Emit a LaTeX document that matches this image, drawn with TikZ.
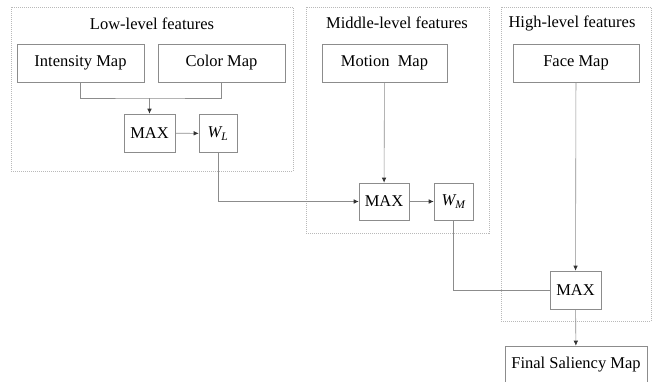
\documentclass[tikz,border=0pt]{standalone}
\usepackage{fontspec}
\setmainfont{Liberation Serif}
\usetikzlibrary{arrows.meta,positioning}
\tikzset{every picture/.style={font issue=\fontsize{16.5}{18}},
         font issue/.style={execute at begin picture={#1\selectfont}}
        }

\begin{document}
\begin{tikzpicture}[x=1pt, y=-1pt,
  group/.style={draw=gray!55, dash pattern=on 1pt off 1pt, line width=0.5pt},
  box/.style={draw=gray!90, line width=0.6pt, inner sep=0pt, minimum height=38pt},
  link/.style={draw=gray!90, line width=0.6pt},
  >={Latex[length=5pt,width=4.5pt,color=black!80]}]
\useasboundingbox (0,0) rectangle (655,381);
% groups of features
\draw[group] (11,7) rectangle (293,171);
\draw[group] (306,7) rectangle (489,233);
\draw[group] (501,7) rectangle (651,321);
\node (lowtitle) at (152,24) {Low-level features};
\node (midtitle) at (397,23) {Middle-level features};
\node (hightitle) at (572,23) {High-level features};
% maps
\node[box, minimum width=127pt] (intensity) at (80.5,63) {Intensity Map};
\node[box, minimum width=127pt] (color) at (221.5,63) {Color Map};
\node[box, minimum width=125pt] (motion) at (384.5,63) {Motion\ \ Map};
\node[box, minimum width=126pt] (face) at (576,63) {Face Map};
% max and weights
\node[box, minimum width=51pt] (maxL) at (149.5,133) {MAX};
\node[box, minimum width=38pt] (wL) at (218,133.5) {$\mathit{W}_{\mathit{L}}$};
\node[box, minimum width=50pt, minimum height=37pt] (maxM) at (384,201.5) {MAX};
\node[box, minimum width=39pt, minimum height=37pt] (wM) at (453.5,201.5) {$\mathit{W}_{\mathit{M}}$};
\node[box, minimum width=51pt] (maxH) at (575.5,290) {MAX};
\node[box, minimum width=142pt] (final) at (576,365) {Final Saliency Map};
\coordinate (jn) at (149.5,98);
% connectors
\draw[link] (intensity.south) |- (jn) -| (color.south);
\draw[link,->] (jn) -- (maxL);
\draw[link,->] (maxL) -- (wL);
\draw[link,->] (wL.south) |- (maxM.west);
\draw[link,->] (motion) -- (maxM);
\draw[link,->] (maxM) -- (wM);
\draw[link] (wM.south) |- (maxH.west);
\draw[link,->] (face) -- (maxH);
\draw[link,->] (maxH) -- (final);
\end{tikzpicture}
\end{document}
